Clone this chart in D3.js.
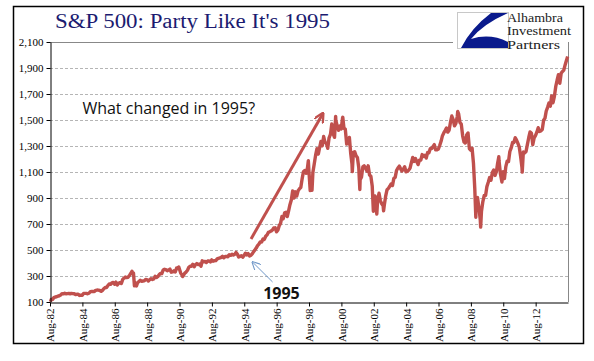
<!DOCTYPE html>
<html>
<head>
<meta charset="utf-8">
<script src="https://cdn.jsdelivr.net/npm/d3@7"></script>
<style>
  body { margin: 0; background: #fff; }
  svg { display: block; }
</style>
</head>
<body>
<svg id="chart"></svg>
<script>
// S&P 500 month-end closes, Aug 1982 .. Jun 2014
const startYear = 1982;
const startMonth = 7; // August (0-based)
const monthlyClose = [
  119.5, 120.4, 133.7, 138.5, 140.6,
  145.3, 148.1, 153.0, 164.4, 162.4, 168.1, 162.6, 164.4, 166.1, 163.6, 166.4, 164.9,
  163.4, 157.1, 159.2, 160.1, 150.6, 153.2, 150.7, 166.7, 166.1, 166.1, 163.6, 167.2,
  179.6, 181.2, 180.7, 179.8, 189.6, 191.9, 190.9, 188.6, 182.1, 189.8, 202.2, 211.3,
  211.8, 226.9, 238.9, 235.5, 247.4, 250.8, 236.1, 252.9, 231.3, 244.0, 249.2, 242.2,
  274.1, 284.2, 291.7, 288.4, 290.1, 304.0, 318.7, 329.8, 321.8, 251.8, 230.3, 247.1,
  257.1, 267.8, 258.9, 261.3, 262.2, 273.5, 272.0, 261.5, 271.9, 279.0, 273.7, 277.7,
  297.5, 288.9, 294.9, 309.6, 320.5, 318.0, 346.1, 351.5, 349.2, 340.4, 346.0, 353.4,
  329.1, 331.9, 339.9, 330.8, 361.2, 358.0, 356.2, 322.6, 306.1, 304.0, 322.2, 330.2,
  343.9, 367.1, 375.2, 375.3, 389.8, 371.2, 387.8, 395.4, 387.9, 392.5, 375.2, 417.1,
  408.8, 412.7, 403.7, 415.0, 415.4, 408.1, 424.2, 414.0, 417.8, 418.7, 431.4, 435.7,
  438.8, 443.4, 451.7, 440.2, 450.2, 450.5, 448.1, 463.6, 458.9, 467.8, 461.8, 466.5,
  481.6, 467.1, 445.8, 450.9, 456.5, 444.3, 458.3, 475.5, 462.7, 472.4, 453.7, 459.3,
  470.4, 487.4, 500.7, 514.7, 533.4, 544.8, 562.1, 561.9, 584.4, 581.5, 605.4, 615.9,
  636.0, 640.4, 645.5, 654.2, 669.1, 670.6, 640.0, 652.0, 687.3, 705.3, 757.0, 740.7,
  786.2, 790.8, 757.1, 801.3, 848.3, 885.1, 954.3, 899.5, 947.3, 914.6, 955.4, 970.4,
  980.3, 1049.3, 1101.8, 1111.8, 1090.8, 1133.8, 1120.7, 957.3, 1017.0, 1098.7, 1163.6, 1229.2,
  1279.6, 1238.3, 1286.4, 1335.2, 1301.8, 1372.7, 1328.7, 1320.4, 1282.7, 1362.9, 1388.9, 1469.3,
  1394.5, 1366.4, 1498.6, 1452.4, 1420.6, 1454.6, 1430.8, 1517.7, 1436.5, 1429.4, 1315.0, 1320.3,
  1366.0, 1239.9, 1160.3, 1249.5, 1255.8, 1224.4, 1211.2, 1133.6, 1040.9, 1059.8, 1139.5, 1148.1,
  1130.2, 1106.7, 1147.4, 1076.9, 1067.1, 989.8, 911.6, 916.1, 815.3, 885.8, 936.3, 879.8,
  855.7, 841.2, 848.2, 916.9, 963.6, 974.5, 990.3, 1008.0, 996.0, 1050.7, 1058.2, 1111.9,
  1131.1, 1144.9, 1126.2, 1107.3, 1120.7, 1140.8, 1101.7, 1104.2, 1114.6, 1130.2, 1173.8, 1211.9,
  1181.3, 1203.6, 1180.6, 1156.9, 1191.5, 1191.3, 1234.2, 1220.3, 1228.8, 1207.0, 1249.5, 1248.3,
  1280.1, 1280.7, 1294.9, 1310.6, 1270.1, 1270.2, 1276.7, 1303.8, 1335.9, 1377.9, 1400.6, 1418.3,
  1438.2, 1406.8, 1420.9, 1482.4, 1530.6, 1503.4, 1455.3, 1474.0, 1526.8, 1549.4, 1481.1, 1468.4,
  1378.6, 1330.6, 1322.7, 1385.6, 1400.4, 1280.0, 1267.4, 1282.8, 1166.4, 968.8, 896.2, 903.3,
  825.9, 735.1, 797.9, 872.8, 919.1, 919.3, 987.5, 1020.6, 1057.1, 1036.2, 1095.6, 1115.1,
  1073.9, 1104.5, 1169.4, 1186.7, 1089.4, 1030.7, 1101.6, 1049.3, 1141.2, 1183.3, 1180.6, 1257.6,
  1286.1, 1327.2, 1325.8, 1363.6, 1345.2, 1320.6, 1292.3, 1218.9, 1131.4, 1253.3, 1247.0, 1257.6,
  1312.4, 1365.7, 1408.5, 1397.9, 1310.3, 1362.2, 1379.3, 1406.6, 1440.7, 1412.2, 1416.2, 1426.2,
  1498.1, 1514.7, 1569.2, 1597.6, 1630.7, 1606.3, 1685.7, 1633.0, 1681.6, 1756.5, 1805.8, 1848.4,
  1782.6, 1859.5, 1872.3, 1884.0, 1923.6, 1960.2
];

// intra-month highs and lows visible in the daily line
const extremeDates = [
  "1982-08-12", "1987-08-25", "1987-10-19", "1987-12-04", "1990-07-16", "1990-10-11",
  "1998-07-17", "1998-10-08", "2000-03-24", "2000-09-01", "2001-04-04", "2001-09-21",
  "2002-07-23", "2002-10-09", "2003-03-11", "2007-10-09", "2008-11-20", "2009-03-09",
  "2010-04-23", "2010-07-02", "2011-04-29", "2011-10-03", "2014-07-24"
];
const extremeValues = [
  102.4, 336.8, 224.8, 223.9, 369.0, 295.5,
  1186.8, 959.4, 1527.5, 1520.8, 1103.3, 965.8,
  797.7, 776.8, 800.7, 1565.2, 752.4, 676.5,
  1217.3, 1022.6, 1363.6, 1099.2, 1987.9
];

const yTicks = [100, 300, 500, 700, 900, 1100, 1300, 1500, 1700, 1900, 2100];
const xTickYears = [1982, 1984, 1986, 1988, 1990, 1992, 1994, 1996, 1998, 2000, 2002, 2004, 2006, 2008, 2010, 2012];

const title = "S&P 500: Party Like It's 1995";
const question = "What changed in 1995?";
const yearLabel = "1995";
const logoLines = ["Alhambra", "Investment", "Partners"];

const width = 594;
const height = 361;
const margin = { top: 42, right: 26, bottom: 59, left: 50 };

const parse = d3.timeParse("%Y-%m-%d");

const data = monthlyClose
  .map((v, i) => ({ date: new Date(startYear, startMonth + i, 28), value: v }))
  .concat(extremeDates.map((d, i) => ({ date: parse(d), value: extremeValues[i] })))
  .sort((a, b) => a.date - b.date);

const svg = d3.select("#chart").attr("width", width).attr("height", height);

// outer frame
svg.append("rect")
  .attr("x", 13.5).attr("y", 6.5)
  .attr("width", 570).attr("height", 337)
  .attr("fill", "none").attr("stroke", "#000").attr("stroke-width", 1.5);

const xScale = d3.scaleTime()
  .domain([new Date(1982, 7, 1), new Date(2014, 7, 1)])
  .range([margin.left, width - margin.right]);

const yScale = d3.scaleLinear()
  .domain([100, 2100])
  .range([height - margin.bottom, margin.top]);

// gridlines
svg.append("g")
  .selectAll("line")
  .data(yTicks.slice(1, -1))
  .enter()
  .append("line")
  .attr("x1", margin.left)
  .attr("x2", width - margin.right)
  .attr("y1", (d) => Math.round(yScale(d)) + 0.5)
  .attr("y2", (d) => Math.round(yScale(d)) + 0.5)
  .attr("stroke", "#b5b5b5")
  .attr("stroke-dasharray", "3,2");

// plot border (top and right), grey
svg.append("path")
  .attr("d", `M${margin.left},${margin.top + 0.5}H${453}M${width - margin.right + 0.5},${margin.top}V${height - margin.bottom}`)
  .attr("fill", "none")
  .attr("stroke", "#888");

const line = d3.line()
  .x((d) => xScale(d.date))
  .y((d) => yScale(d.value));

svg.append("path")
  .datum(data)
  .attr("fill", "none")
  .attr("stroke", "#c0504d")
  .attr("stroke-width", 3.4)
  .attr("stroke-linejoin", "round")
  .attr("d", line);

const yAxis = d3.axisLeft(yScale)
  .tickValues(yTicks)
  .tickFormat(d3.format(","))
  .tickSize(4)
  .tickSizeOuter(0)
  .tickPadding(3);

const yG = svg.append("g")
  .attr("transform", `translate(${margin.left + 0.5},0)`)
  .call(yAxis);

const xAxis = d3.axisBottom(xScale)
  .tickValues(xTickYears.map((y) => new Date(y, 7, 1)))
  .tickFormat(d3.timeFormat("Aug-%y"))
  .tickSize(4)
  .tickSizeOuter(0);

const xG = svg.append("g")
  .attr("transform", `translate(0,${height - margin.bottom + 0.5})`)
  .call(xAxis);

xG.selectAll("text")
  .attr("transform", "rotate(-90)")
  .attr("text-anchor", "end")
  .attr("x", -6)
  .attr("y", 0)
  .attr("dy", "0.35em");

[yG, xG].forEach((g) => {
  g.selectAll("text")
    .attr("font-family", "'Liberation Serif', serif")
    .attr("font-size", 11)
    .attr("fill", "#000");
  g.selectAll("path, line").attr("stroke", "#000");
});

// title
svg.append("text")
  .attr("x", 55)
  .attr("y", 28)
  .attr("font-family", "'Liberation Serif', serif")
  .attr("font-size", 20)
  .attr("fill", "#1b1b70")
  .attr("textLength", 275)
  .attr("lengthAdjust", "spacingAndGlyphs")
  .text(title);

// logo
const logo = svg.append("g");
logo.append("rect")
  .attr("x", 457.5).attr("y", 12.5)
  .attr("width", 51).attr("height", 36)
  .attr("fill", "#fff").attr("stroke", "#c8c8c8");
logo.append("path")
  .attr("d", "M491,13 L508,13 Q483,24 471,39 Q490,33 508,42 L508,48 L461,48 Q471,28 491,13 Z")
  .attr("fill", "#0a1a8c");
logo.append("g")
  .selectAll("text")
  .data(logoLines)
  .enter()
  .append("text")
  .attr("x", 507)
  .attr("y", (d, i) => 21.5 + i * 13.5)
  .attr("font-family", "'Liberation Serif', serif")
  .attr("font-size", 12)
  .attr("textLength", (d, i) => [56, 64, 53][i])
  .attr("lengthAdjust", "spacingAndGlyphs")
  .attr("fill", "#222")
  .text((d) => d);

// annotations
const defs = svg.append("defs");
defs.append("marker")
  .attr("id", "redHead")
  .attr("viewBox", "0 0 10 10")
  .attr("refX", 8).attr("refY", 5)
  .attr("markerWidth", 3.4).attr("markerHeight", 3.4)
  .attr("orient", "auto")
  .append("path")
  .attr("d", "M0,0 L10,5 L0,10")
  .attr("fill", "none")
  .attr("stroke", "#c0504d")
  .attr("stroke-width", 2.2);

defs.append("marker")
  .attr("id", "blueHead")
  .attr("viewBox", "0 0 10 10")
  .attr("refX", 9).attr("refY", 5)
  .attr("markerWidth", 9).attr("markerHeight", 9)
  .attr("markerUnits", "userSpaceOnUse")
  .attr("orient", "auto")
  .append("path")
  .attr("d", "M0,0 L10,5 L0,10")
  .attr("fill", "none")
  .attr("stroke", "#6f97c8")
  .attr("stroke-width", 1.2);

svg.append("line")
  .attr("x1", xScale(new Date(1995, 0, 1)))
  .attr("y1", yScale(585))
  .attr("x2", xScale(new Date(1999, 5, 1)))
  .attr("y2", yScale(1545))
  .attr("stroke", "#c0504d")
  .attr("stroke-width", 3)
  .attr("marker-end", "url(#redHead)");

svg.append("line")
  .attr("x1", xScale(new Date(1996, 4, 1)))
  .attr("y1", yScale(254))
  .attr("x2", xScale(new Date(1995, 1, 1)))
  .attr("y2", yScale(408))
  .attr("stroke", "#6f97c8")
  .attr("stroke-width", 1)
  .attr("marker-end", "url(#blueHead)");

svg.append("text")
  .attr("x", xScale(new Date(1984, 7, 1)))
  .attr("y", yScale(1545))
  .attr("font-family", "'Open Sans', sans-serif")
  .attr("font-size", 16)
  .attr("fill", "#111")
  .text(question);

svg.append("text")
  .attr("x", xScale(new Date(1995, 9, 1)))
  .attr("y", yScale(125))
  .attr("font-family", "'Open Sans', sans-serif")
  .attr("font-weight", "bold")
  .attr("font-size", 16)
  .attr("fill", "#111")
  .text(yearLabel);
</script>
</body>
</html>
